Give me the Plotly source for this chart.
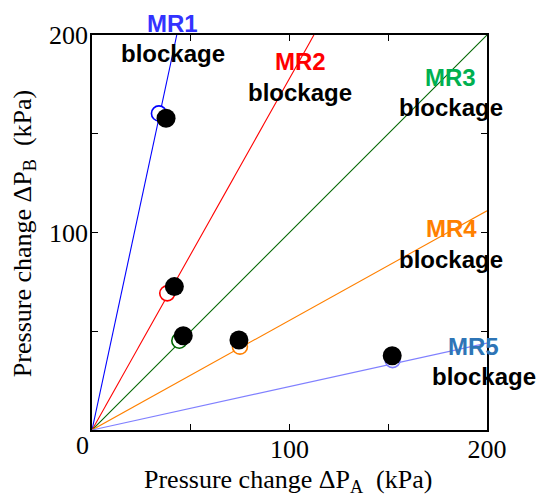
import plotly.graph_objects as go

# Reference lines (slope of ΔP_B / ΔP_A) for each blockage case
line_names = ["MR1", "MR2", "MR3", "MR4", "MR5"]
line_slopes = [4.66, 1.78, 1.0, 0.555, 0.22]
line_colors = ["#0000FF", "#FF0000", "#006600", "#FF8000", "#8080FF"]

# Open circles (predicted) per case
open_x = [33.9, 38.1, 44.2, 74.9, 152.2]
open_y = [160.3, 69.2, 45.2, 42.2, 35.4]

# Filled black circles (measured)
meas_x = [37.5, 41.7, 46.2, 74.4, 152.0]
meas_y = [157.8, 72.6, 47.7, 45.6, 37.6]

# Label texts, positions (data units) and colors
label_colors = ["#3333FF", "#FF0000", "#00B050", "#FF8000", "#2E75B6"]
label_x = [41.0, 105.6, 181.7, 181.9, 193.3]
label_y = [205.6, 186.5, 178.5, 101.9, 42.5]
block_x = [41.2, 105.5, 181.8, 181.8, 198.6]
block_y = [190.4, 171.0, 163.3, 86.3, 27.0]

x_title = "Pressure change ΔP<sub>A</sub>  (kPa)"
y_title = "Pressure change ΔP<sub>B</sub>  (kPa)"

AX_MAX = 200.0

fig = go.Figure()

for name, s, c in zip(line_names, line_slopes, line_colors):
    xe = min(AX_MAX, AX_MAX / s)
    fig.add_trace(go.Scatter(x=[0, xe], y=[0, s * xe], mode="lines",
                             line=dict(color=c, width=1.1), showlegend=False,
                             hoverinfo="skip"))

fig.add_trace(go.Scatter(x=open_x, y=open_y, mode="markers",
                         marker=dict(size=15, color="white",
                                     line=dict(color=line_colors, width=1.6)),
                         showlegend=False))
fig.add_trace(go.Scatter(x=meas_x, y=meas_y, mode="markers",
                         marker=dict(size=19, color="black", line=dict(width=0)),
                         showlegend=False))

for n, lx, ly, bx, by, c in zip(line_names, label_x, label_y, block_x, block_y, label_colors):
    fig.add_annotation(x=lx / AX_MAX, y=ly / AX_MAX, xref="paper", yref="paper",
                       xanchor="center", yanchor="middle",
                       text=n, showarrow=False,
                       font=dict(family="Liberation Sans", size=24, color=c, weight="bold"))
    fig.add_annotation(x=bx / AX_MAX, y=by / AX_MAX, xref="paper", yref="paper",
                       xanchor="center", yanchor="middle",
                       text="blockage", showarrow=False,
                       font=dict(family="Liberation Sans", size=24, color="black", weight="bold"))

serif = dict(family="Liberation Serif", size=26, color="black")

fig.add_annotation(x=0, y=0, xref="paper", yref="paper", text="0", showarrow=False,
                   xanchor="center", yanchor="middle", xshift=-10, yshift=-15, font=serif)
fig.add_annotation(x=0.496, y=-0.129, xref="paper", yref="paper", text=x_title,
                   showarrow=False, xanchor="center", yanchor="middle", font=serif)
fig.add_annotation(x=-0.172, y=0.496, xref="paper", yref="paper", text=y_title,
                   showarrow=False, xanchor="center", yanchor="middle", textangle=-90,
                   font=serif)

tickvals = [0, 50, 100, 150, 200]
ticktext = ["", "", "100", "", "200"]

axis_common = dict(range=[0, AX_MAX], showgrid=False, zeroline=False, automargin=False,
                   showline=True, linecolor="black", linewidth=1.5, mirror="ticks",
                   ticks="inside", ticklen=6, tickwidth=1.2, tickcolor="black",
                   tickvals=tickvals, ticktext=ticktext,
                   tickfont=serif)

fig.update_layout(
    width=539, height=497,
    margin=dict(l=92, r=52, t=35, b=67),
    plot_bgcolor="white", paper_bgcolor="white",
    xaxis=dict(**axis_common, ticklabelstandoff=-5),
    yaxis=dict(**axis_common, ticklabelstandoff=-3),
)

fig.write_html("out.html", config={"displayModeBar": False},
               post_script="document.body.style.margin='0';")
